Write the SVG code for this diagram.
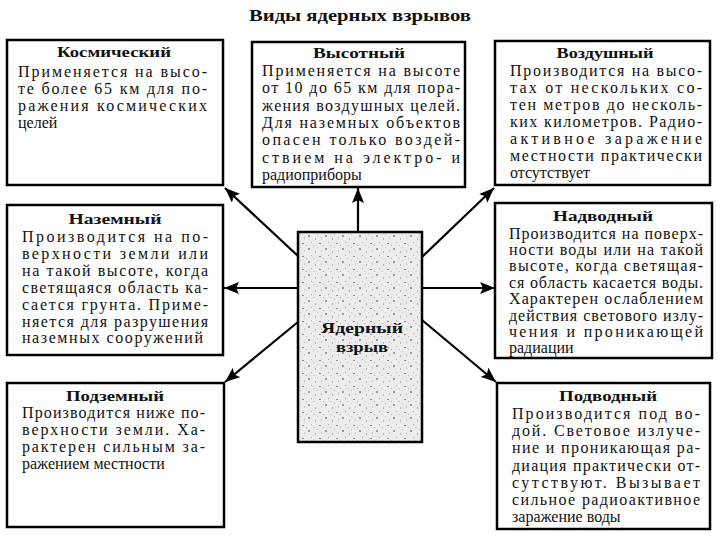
<svg xmlns="http://www.w3.org/2000/svg" width="720" height="540" viewBox="0 0 720 540">
<defs>
<style>
.box{fill:#fff;stroke:#000;stroke-width:2.5}
.hd{font-family:"Liberation Serif","Times New Roman",serif;font-weight:bold;font-size:15.5px;fill:#111;text-anchor:middle}
.tx{font-family:"Liberation Serif","Times New Roman",serif;font-size:16px;fill:#111}
.ttl{font-family:"Liberation Serif","Times New Roman",serif;font-weight:bold;font-size:16px;fill:#111;text-anchor:middle}
.arr{stroke:#000;stroke-width:2.2;fill:none;marker-end:url(#ah)}
</style>
<marker id="ah" markerUnits="userSpaceOnUse" markerWidth="16" markerHeight="12" refX="15" refY="6" orient="auto">
<path d="M0,0 L15,6 L0,12 L3,6 Z" fill="#000"/>
</marker>
<pattern id="speck" width="17" height="13" patternUnits="userSpaceOnUse">
<rect width="17" height="13" fill="#ececec"/>
<rect x="2" y="1" width="2" height="2" fill="#9a9a9a"/>
<rect x="9" y="4" width="1" height="2" fill="#b5b5b5"/>
<rect x="13" y="9" width="2" height="1" fill="#8c8c8c"/>
<rect x="5" y="8" width="1" height="1" fill="#a8a8a8"/>
<rect x="11" y="0" width="1" height="1" fill="#c0c0c0"/>
<rect x="0" y="11" width="1" height="1" fill="#b0b0b0"/>
<rect x="7" y="11" width="2" height="1" fill="#d0d0d0"/>
<rect x="15" y="3" width="1" height="2" fill="#c8c8c8"/>
</pattern>
</defs>
<rect width="720" height="540" fill="#fff"/>
<text id="title" class="ttl" x="360" y="21" textLength="222" lengthAdjust="spacingAndGlyphs">Виды ядерных взрывов</text>

<g id="connectors">
<line class="arr" x1="358" y1="232" x2="358" y2="188"/>
<line class="arr" x1="298" y1="256" x2="225" y2="188"/>
<line class="arr" x1="422" y1="257" x2="494" y2="188"/>
<line class="arr" x1="298" y1="288" x2="224" y2="288"/>
<line class="arr" x1="422" y1="288" x2="495" y2="288"/>
<line class="arr" x1="298" y1="322" x2="225" y2="382"/>
<line class="arr" x1="422" y1="320" x2="496" y2="382"/>
</g>

<g id="center">
<rect x="298" y="232" width="124" height="210" fill="url(#speck)" stroke="#000" stroke-width="2.5"/>
<text class="hd" x="362" y="333" textLength="82" lengthAdjust="spacingAndGlyphs">Ядерный</text>
<text class="hd" x="362" y="352" textLength="52" lengthAdjust="spacingAndGlyphs">взрыв</text>
</g>

<g id="kosmicheskiy">
<rect class="box" x="7" y="40" width="216" height="145"/>
<text class="hd" x="114" y="57" textLength="114" lengthAdjust="spacingAndGlyphs">Космический</text>
<text class="tx" x="18" y="77" textLength="189" lengthAdjust="spacing">Применяется на высо-</text>
<text class="tx" x="18" y="94" textLength="189" lengthAdjust="spacing">те более 65 км для по-</text>
<text class="tx" x="18" y="111" textLength="189" lengthAdjust="spacing">ражения космических</text>
<text class="tx" x="18" y="128">целей</text>
</g>

<g id="vysotnyy">
<rect class="box" x="252" y="42" width="213" height="145"/>
<text class="hd" x="359" y="58" textLength="92" lengthAdjust="spacingAndGlyphs">Высотный</text>
<text class="tx" x="262" y="76" textLength="198" lengthAdjust="spacing">Применяется на высоте</text>
<text class="tx" x="262" y="93.3" textLength="198" lengthAdjust="spacing">от 10 до 65 км для пора-</text>
<text class="tx" x="262" y="110.6" textLength="198" lengthAdjust="spacing">жения воздушных целей.</text>
<text class="tx" x="262" y="128" textLength="198" lengthAdjust="spacing">Для наземных объектов</text>
<text class="tx" x="262" y="145.3" textLength="198" lengthAdjust="spacing">опасен только воздей-</text>
<text class="tx" x="262" y="162.6" textLength="198" lengthAdjust="spacing">ствием на электро- и</text>
<text class="tx" x="262" y="180">радиоприборы</text>
</g>

<g id="vozdushnyy">
<rect class="box" x="495" y="41" width="215" height="144"/>
<text class="hd" x="605" y="58" textLength="97" lengthAdjust="spacingAndGlyphs">Воздушный</text>
<text class="tx" x="510" y="76" textLength="192" lengthAdjust="spacing">Производится на высо-</text>
<text class="tx" x="510" y="93" textLength="192" lengthAdjust="spacing">тах от нескольких со-</text>
<text class="tx" x="510" y="110" textLength="192" lengthAdjust="spacing">тен метров до несколь-</text>
<text class="tx" x="510" y="127" textLength="192" lengthAdjust="spacing">ких километров. Радио-</text>
<text class="tx" x="510" y="144" textLength="192" lengthAdjust="spacing">активное заражение</text>
<text class="tx" x="510" y="161" textLength="192" lengthAdjust="spacing">местности практически</text>
<text class="tx" x="510" y="178">отсутствует</text>
</g>

<g id="nazemnyy">
<rect class="box" x="7" y="205" width="216" height="150"/>
<text class="hd" x="115" y="224" textLength="93" lengthAdjust="spacingAndGlyphs">Наземный</text>
<text class="tx" x="22" y="242" textLength="186" lengthAdjust="spacing">Производится на по-</text>
<text class="tx" x="22" y="259" textLength="186" lengthAdjust="spacing">верхности земли или</text>
<text class="tx" x="22" y="276" textLength="186" lengthAdjust="spacing">на такой высоте, когда</text>
<text class="tx" x="22" y="293" textLength="186" lengthAdjust="spacing">светящаяся область ка-</text>
<text class="tx" x="22" y="310" textLength="186" lengthAdjust="spacing">сается грунта. Приме-</text>
<text class="tx" x="22" y="327" textLength="186" lengthAdjust="spacing">няется для разрушения</text>
<text class="tx" x="22" y="343" textLength="181" lengthAdjust="spacing">наземных сооружений</text>
</g>

<g id="nadvodnyy">
<rect class="box" x="495" y="203" width="217" height="155"/>
<text class="hd" x="603" y="221" textLength="100" lengthAdjust="spacingAndGlyphs">Надводный</text>
<text class="tx" x="509" y="238.5" textLength="194" lengthAdjust="spacing">Производится на поверх-</text>
<text class="tx" x="509" y="254.9" textLength="194" lengthAdjust="spacing">ности воды или на такой</text>
<text class="tx" x="509" y="271.3" textLength="194" lengthAdjust="spacing">высоте, когда светящая-</text>
<text class="tx" x="509" y="287.7" textLength="194" lengthAdjust="spacing">ся область касается воды.</text>
<text class="tx" x="509" y="304.1" textLength="194" lengthAdjust="spacing">Характерен ослаблением</text>
<text class="tx" x="509" y="320.5" textLength="194" lengthAdjust="spacing">действия светового излу-</text>
<text class="tx" x="509" y="336.9" textLength="194" lengthAdjust="spacing">чения и проникающей</text>
<text class="tx" x="509" y="353.3">радиации</text>
</g>

<g id="podzemnyy">
<rect class="box" x="7" y="383" width="217" height="144"/>
<text class="hd" x="115" y="401" textLength="98" lengthAdjust="spacingAndGlyphs">Подземный</text>
<text class="tx" x="22" y="418" textLength="183" lengthAdjust="spacing">Производится ниже по-</text>
<text class="tx" x="22" y="435" textLength="183" lengthAdjust="spacing">верхности земли. Ха-</text>
<text class="tx" x="22" y="452" textLength="183" lengthAdjust="spacing">рактерен сильным за-</text>
<text class="tx" x="22" y="469">ражением местности</text>
</g>

<g id="podvodnyy">
<rect class="box" x="497" y="383" width="213" height="146"/>
<text class="hd" x="608" y="400.5" textLength="98" lengthAdjust="spacingAndGlyphs">Подводный</text>
<text class="tx" x="512" y="419" textLength="188" lengthAdjust="spacing">Производится под во-</text>
<text class="tx" x="512" y="436.2" textLength="188" lengthAdjust="spacing">дой. Световое излуче-</text>
<text class="tx" x="512" y="453.4" textLength="188" lengthAdjust="spacing">ние и проникающая ра-</text>
<text class="tx" x="512" y="470.6" textLength="188" lengthAdjust="spacing">диация практически от-</text>
<text class="tx" x="512" y="487.8" textLength="188" lengthAdjust="spacing">сутствуют. Вызывает</text>
<text class="tx" x="512" y="505" textLength="188" lengthAdjust="spacing">сильное радиоактивное</text>
<text class="tx" x="512" y="522">заражение воды</text>
</g>
</svg>
